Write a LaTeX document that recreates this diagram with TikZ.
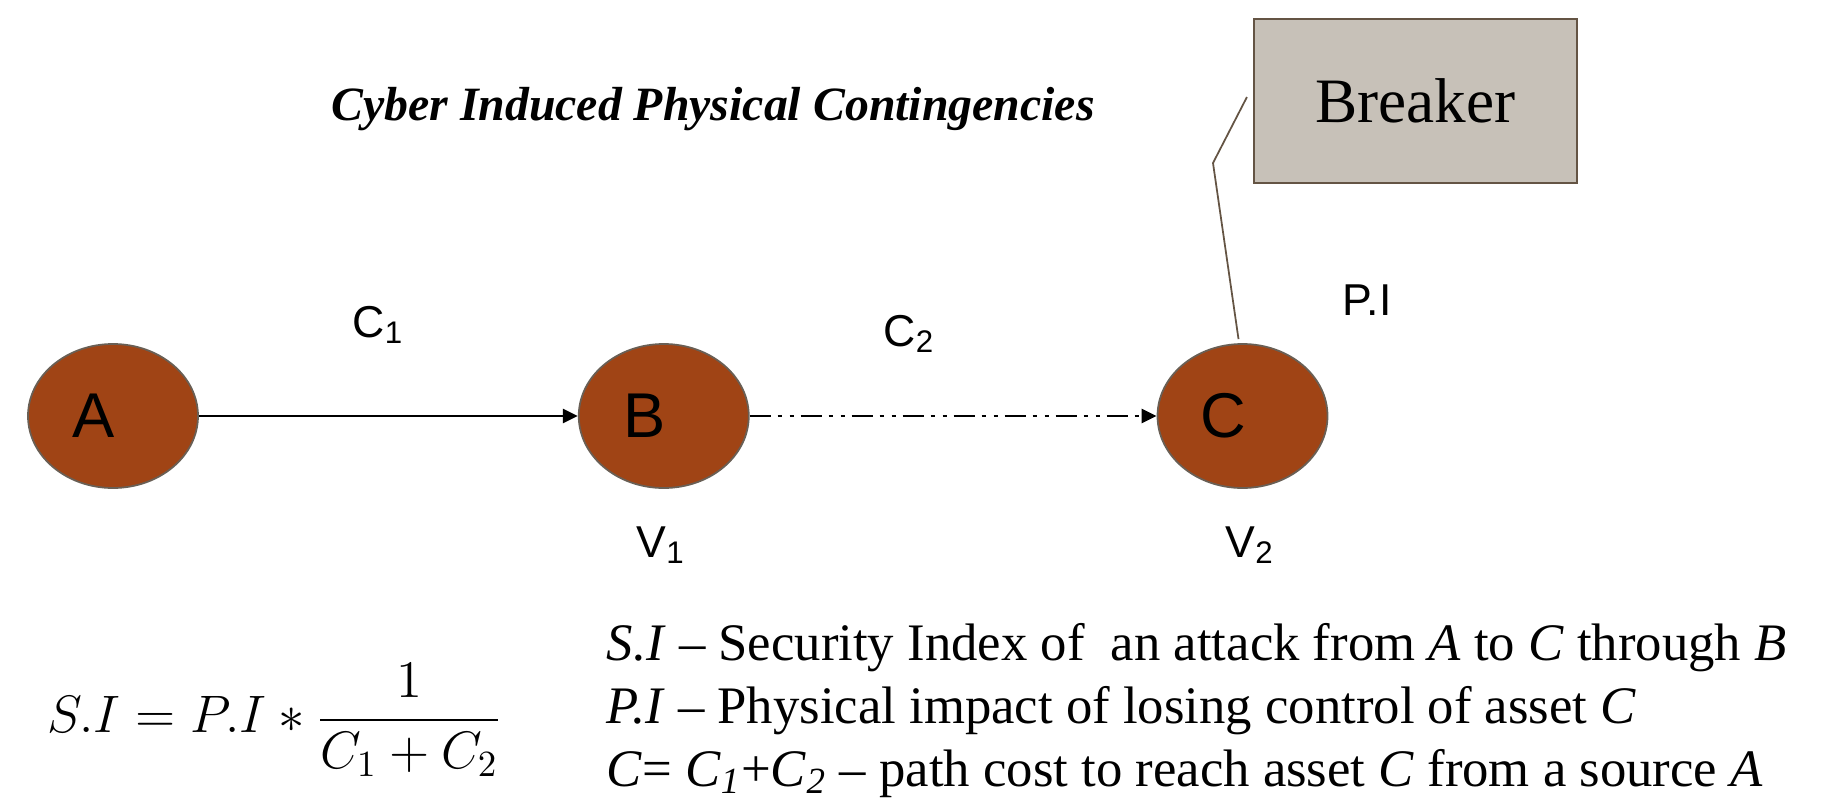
\RequirePackage{fix-cm}
\documentclass[tikz,border=0pt]{standalone}
\usepackage{amsmath}
\usepackage{fontspec}
\setmainfont{Liberation Serif}
\newfontfamily\arialfont{Liberation Sans}
\usetikzlibrary{arrows.meta, positioning, shapes.geometric}
\definecolor{assetbrown}{RGB}{160,68,21}
\definecolor{assetedge}{RGB}{105,95,85}
\definecolor{breakerfill}{RGB}{199,193,184}
\definecolor{breakeredge}{RGB}{100,84,68}

\begin{document}
\begin{tikzpicture}[
  asset/.style={
    ellipse, draw=assetedge, fill=assetbrown, line width=0.5pt,
    minimum width=1.70cm, minimum height=1.44cm, inner sep=0pt,
    font=\arialfont\fontsize{18}{20}\selectfont
  },
  link/.style={-{Triangle[length=0.15cm, width=0.14cm]}, line width=0.8pt},
  hop/.style={link, dash pattern=on 0.21cm off 0.07cm on 0.04cm off 0.08cm
              on 0.04cm off 0.07cm},
  cost/.style={anchor=base west, inner sep=0pt,
               font=\arialfont\fontsize{12.7}{14}\selectfont},
  expl/.style={anchor=base west, inner sep=0pt,
               font=\fontsize{15}{18}\selectfont}
]
\useasboundingbox (0,0) rectangle (18.38,8.10);

\node[font=\bfseries\itshape\fontsize{13.6}{15}\selectfont]
  (title) at (7.13,7.01) {Cyber Induced Physical Contingencies};

% letters sit left of the ellipse centre
\node[asset] (A) at (1.13,3.94) {A\hspace*{0.38cm}};
\node[asset, right=3.79cm of A] (B) {B\hspace*{0.38cm}};
\node[asset, right=4.07cm of B] (C) {C\hspace*{0.38cm}};

\draw[link] (A) -- (B);
\draw[hop]  (B) -- (C);

\node[draw=breakeredge, fill=breakerfill, line width=0.6pt,
      minimum width=3.23cm, minimum height=1.64cm,
      font=\fontsize{18}{20}\selectfont]
  (brk) at (14.155,7.09) {Breaker};
\coordinate (bend) at (12.13,6.47);
\draw[breakeredge, line width=0.5pt]
  ([xshift=-0.06cm, yshift=0.04cm]brk.west) -- (bend)
  -- ([xshift=-0.04cm, yshift=0.04cm]C.north);

\node[cost] (c1) at (3.52,4.73)  {C\textsubscript{1}};
\node[cost] (c2) at (8.83,4.64)  {C\textsubscript{2}};
\node[cost] (v1) at (6.36,2.53)  {V\textsubscript{1}};
\node[cost] (v2) at (12.25,2.53) {V\textsubscript{2}};
\node[cost] (pi) at (13.42,4.95) {P.I};

\node[anchor=west, inner sep=0pt, font=\fontsize{15}{18}\selectfont]
  (formula) at (0.47,0.90) {$\displaystyle S.I = P.I * \frac{1}{C_1+C_2}$};

\node[expl] (siline) at (6.06,1.50)
  {\textit{S.I} – Security Index of\ \ an attack from \textit{A} to \textit{C} through \textit{B}};
\node[expl] (piline) at (6.06,0.87)
  {\textit{P.I} – Physical impact of losing control of asset \textit{C}};
\node[expl] (ccline) at (6.06,0.24)
  {\textit{C}= \textit{C}\textsubscript{\textit{1}}+\textit{C}\textsubscript{\textit{2}}
   – path cost to reach asset \textit{C} from a source \textit{A}};
\end{tikzpicture}
\end{document}
